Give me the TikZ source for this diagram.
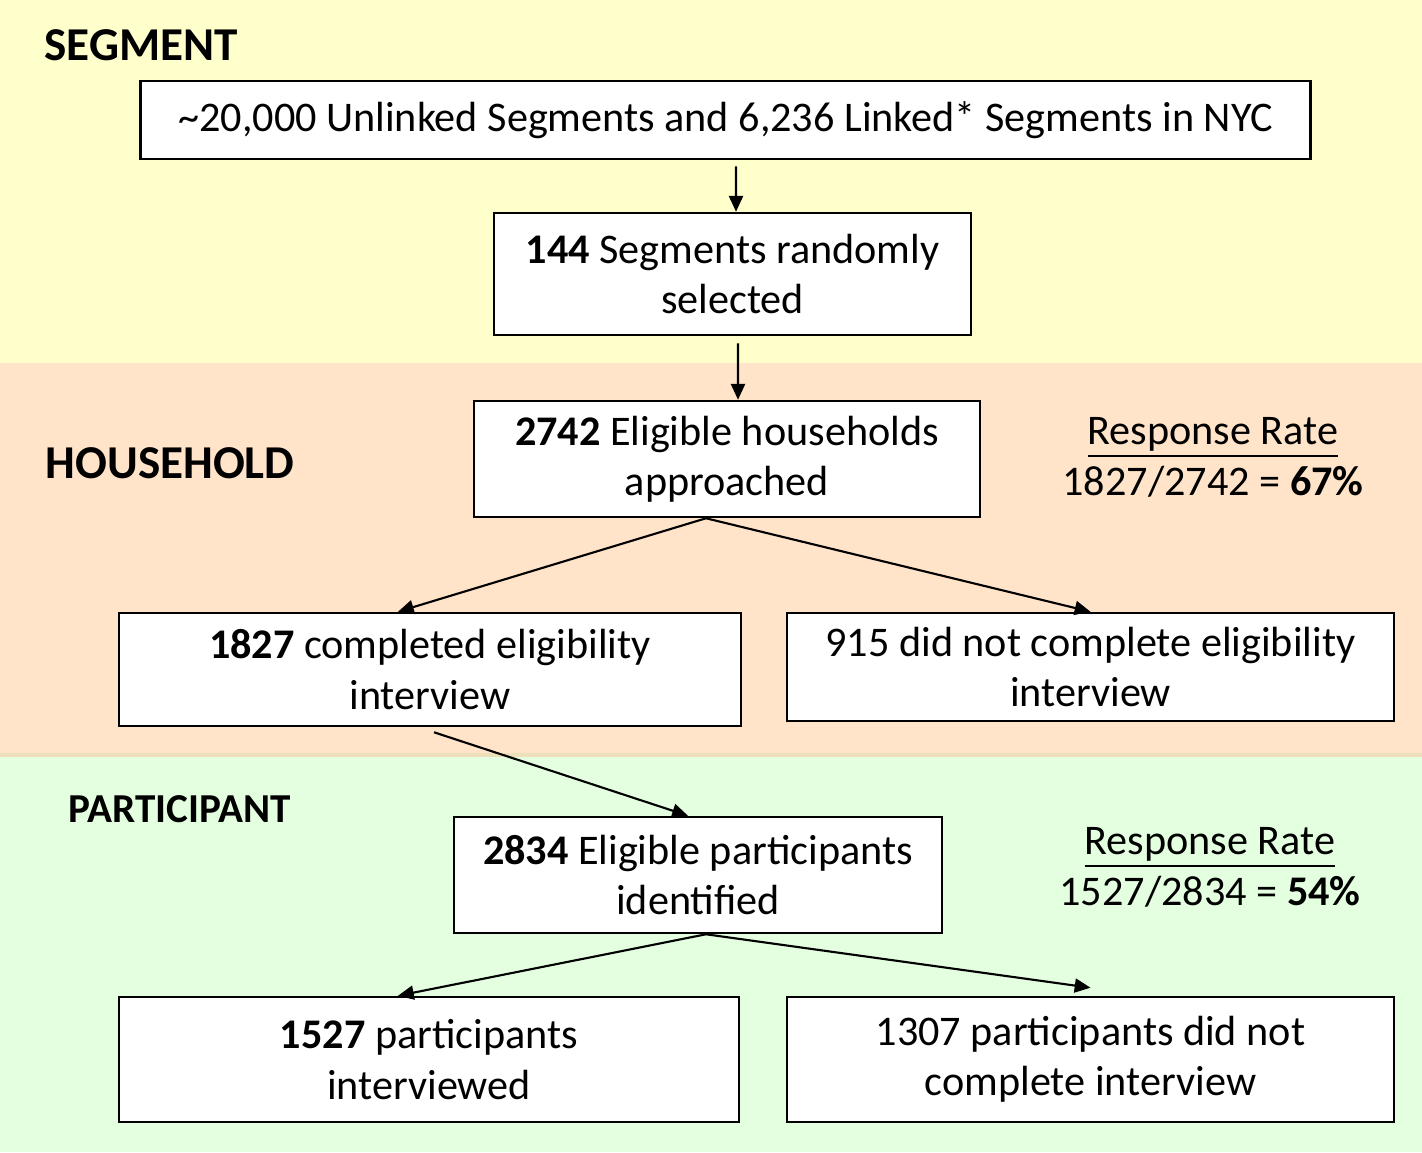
\documentclass[tikz,border=0pt]{standalone}
\usepackage{fontspec}
\setmainfont{Carlito}
\usepackage{tikz}
\usetikzlibrary{arrows.meta}

\definecolor{segBg}{HTML}{FFFFCC}
\definecolor{hhBg}{HTML}{FFE4CA}
\definecolor{partBg}{HTML}{E3FFE0}
\definecolor{bandEdge}{HTML}{EEDFBB}

\tikzset{
	box/.style={draw, fill=white, line width=0.7pt, align=center, inner sep=0pt,
		font=\fontsize{12}{14.3}\selectfont},
	level/.style={anchor=west, inner sep=0pt, font=\fontsize{13.4}{16}\selectfont\bfseries},
	rate/.style={align=center, inner sep=0pt, font=\fontsize{12}{14.5}\selectfont},
	flow/.style={-{Triangle[length=4.5pt,width=4pt]}, line width=0.6pt}
}

\begin{document}
\begin{tikzpicture}[x=0.01cm, y=-0.01cm]
	
	% Background bands
	\useasboundingbox (0,0) rectangle (1422,1152);
	\fill[segBg] (0,0) rectangle (1422,363);
	\fill[hhBg] (0,363) rectangle (1422,753);
	\fill[bandEdge] (0,753) rectangle (1422,757);
	\fill[partBg] (0,757) rectangle (1422,1152);
	
	% Level labels
	\node[level] (segLbl) at (44,45) {SEGMENT};
	\node[level] (hhLbl) at (45,463) {HOUSEHOLD};
	\node[level, font=\fontsize{11.7}{14}\selectfont\bfseries] (partLbl) at (68,809) {PARTICIPANT};
	
	% Segment boxes
	\node[box, minimum width=11.69cm, minimum height=0.78cm] (segAll) at (725.5,120)
		{\textasciitilde 20,000 Unlinked Segments and 6,236 Linked* Segments in NYC};
	\node[box, minimum width=4.77cm, minimum height=1.22cm] (segSel) at (732.5,274)
		{\textbf{144} Segments randomly\\selected};
	
	% Household boxes
	\node[box, minimum width=5.06cm, minimum height=1.16cm] (hhElig) at (727,459)
		{\textbf{2742} Eligible households\\approached};
	\node[box, minimum width=6.22cm, minimum height=1.13cm] (hhDone) at (430,669.5)
		{\textbf{1827} completed eligibility\\interview};
	\node[box, minimum width=6.07cm, minimum height=1.08cm] (hhNot) at (1090.5,667)
		{915 did not complete eligibility\\interview};
	
	% Participant boxes
	\node[box, minimum width=4.88cm, minimum height=1.16cm] (partElig) at (698,875)
		{\textbf{2834} Eligible participants\\identified};
	\node[box, minimum width=6.20cm, minimum height=1.25cm] (partDone) at (429,1059.5)
		{\textbf{1527} participants\\interviewed};
	\node[box, minimum width=6.07cm, minimum height=1.25cm] (partNot) at (1090.5,1059.5)
		{1307 participants did not\\complete interview};
	
	% Response rates
	\node[rate] (hhRate) at (1213,457) {\underline{Response Rate}\\1827/2742 = \textbf{67\%}};
	\node[rate] (partRate) at (1210,867) {\underline{Response Rate}\\1527/2834 = \textbf{54\%}};
	
	% Arrows
	\draw[flow] ([xshift=0.105cm,yshift=-0.06cm]segAll.south) -- ([xshift=0.035cm]segSel.north);
	\draw[flow] ([xshift=0.055cm,yshift=-0.07cm]segSel.south) -- ([xshift=0.11cm]hhElig.north);
	\draw[flow] ([xshift=-0.21cm]hhElig.south) -- ([xshift=-0.32cm]hhDone.north);
	\draw[flow] ([xshift=-0.21cm]hhElig.south) -- (hhNot.north);
	\draw[flow] ([xshift=0.04cm,yshift=-0.05cm]hhDone.south) -- ([xshift=-0.1cm]partElig.north);
	\draw[flow] ([xshift=0.08cm]partElig.south) -- ([xshift=-0.31cm]partDone.north);
	\draw[flow] ([xshift=0.08cm]partElig.south) -- ([yshift=0.08cm]partNot.north);
	
\end{tikzpicture}
\end{document}
